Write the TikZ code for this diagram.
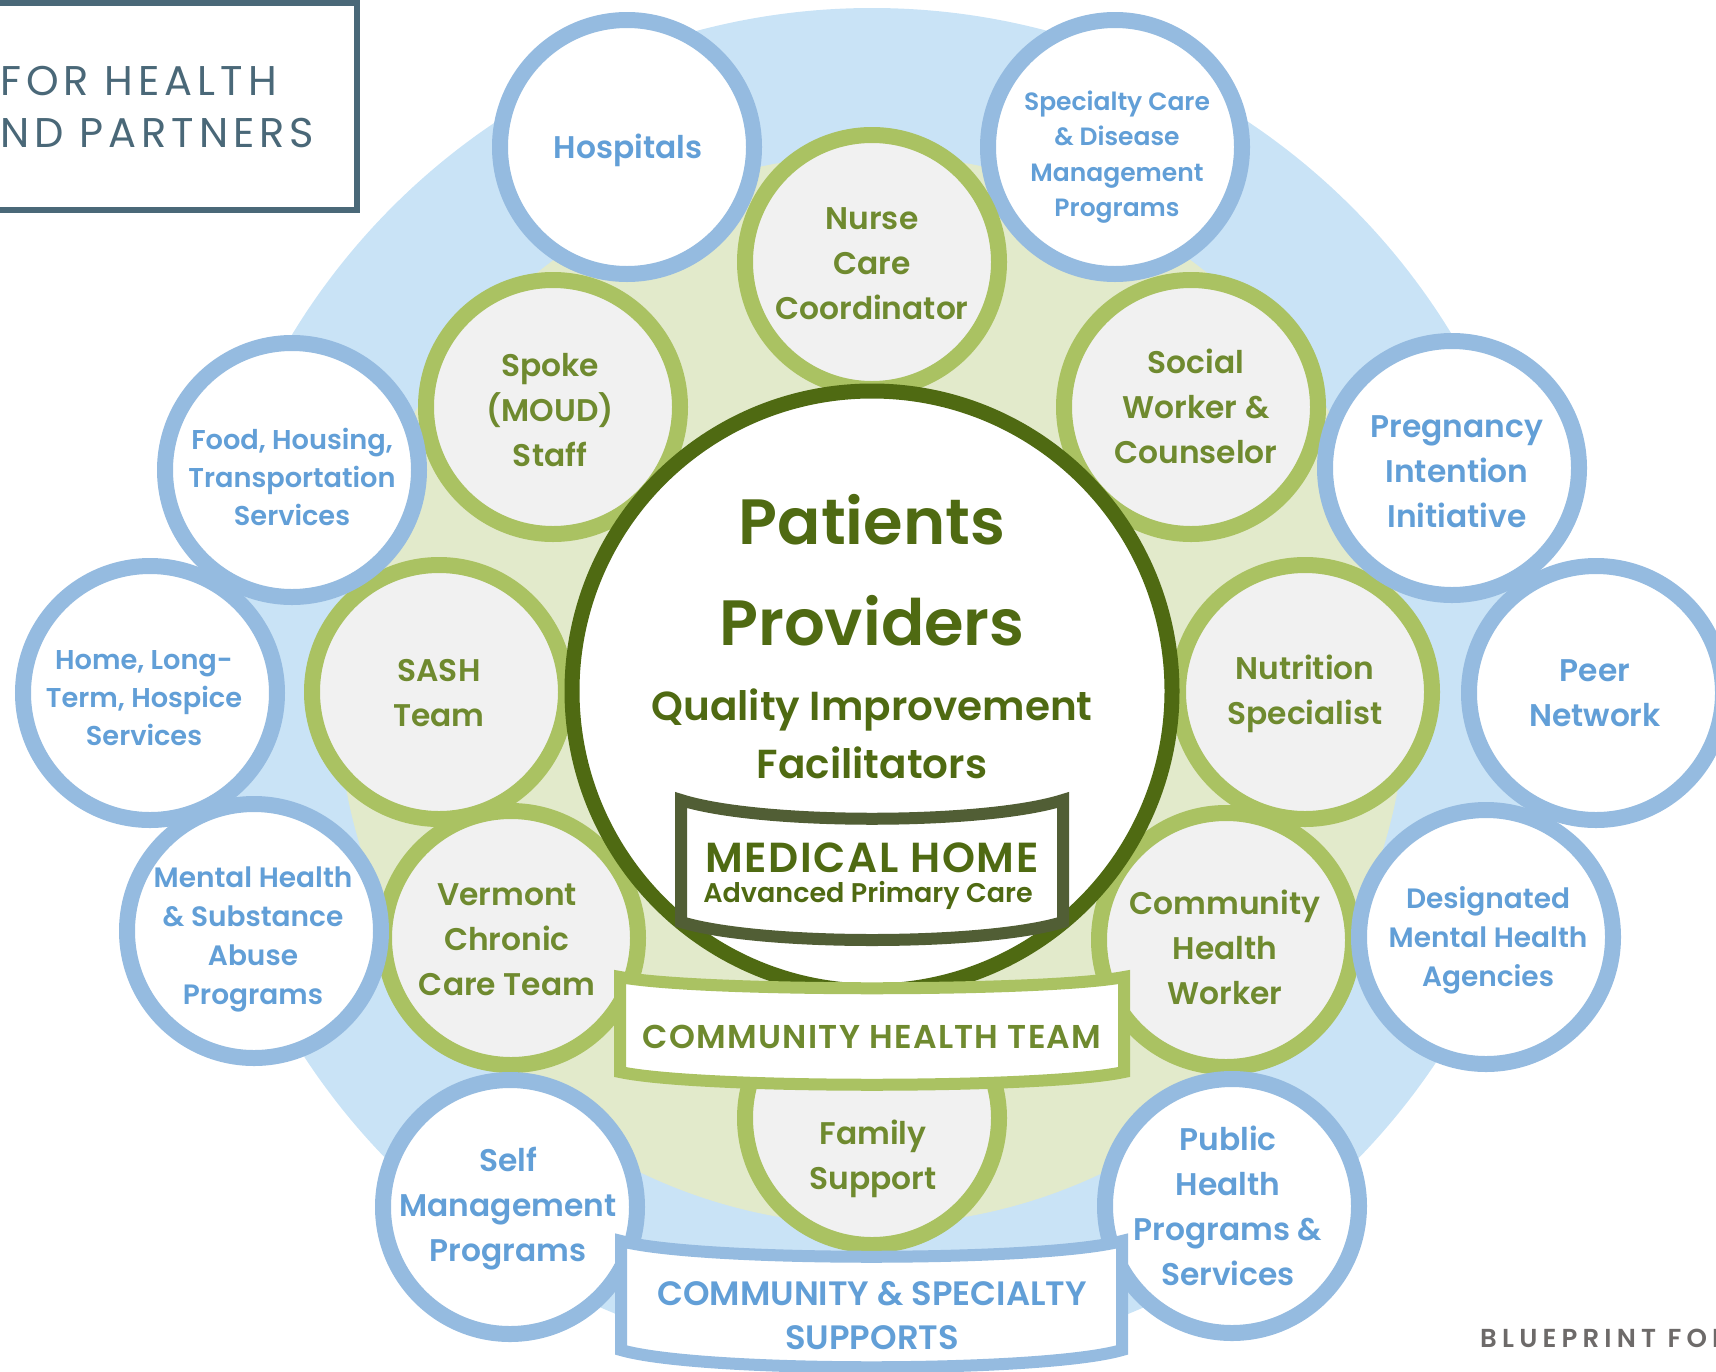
\documentclass[tikz,border=0pt]{standalone}
\usepackage{fontspec}
\setmainfont{Poppins}[BoldFont={Poppins SemiBold}]
\newfontfamily\titlefont{Poppins}[LetterSpace=12]
\newfontfamily\bpfont{Poppins SemiBold}[LetterSpace=20]
\newfontfamily\banfont{Poppins SemiBold}[LetterSpace=4]
\newcommand\myfs[2]{\fontsize{#1}{#2}\selectfont}
\definecolor{bgblue}{HTML}{C9E3F6}
\definecolor{bggreen}{HTML}{E2EACB}
\definecolor{ringblue}{HTML}{95BBE0}
\definecolor{ringgreen}{HTML}{AAC262}
\definecolor{darkgreen}{HTML}{4F6A12}
\definecolor{bannerdark}{HTML}{515E35}
\definecolor{txtblue}{HTML}{629FD7}
\definecolor{txtgreen}{HTML}{6F8A2F}
\definecolor{cellgray}{HTML}{F1F1F1}
\definecolor{titleblue}{HTML}{4A6878}
\definecolor{bpgray}{HTML}{6D6A69}
\tikzset{
  bluering/.style={circle, draw=ringblue, line width=16pt, fill=white, minimum size=254pt, inner sep=0pt},
  greenring/.style={circle, draw=ringgreen, line width=16pt, fill=cellgray, minimum size=254pt, inner sep=0pt},
  btxt/.style={text=txtblue, align=center, inner sep=0pt, font=\bfseries\myfs{31.3}{45}},
  bsmall/.style={btxt, font=\bfseries\myfs{27.2}{38}},
  gtxt/.style={text=txtgreen, align=center, inner sep=0pt, font=\bfseries\myfs{31.3}{45}},
  ctxt/.style={text=darkgreen, align=center, inner sep=0pt},
  bannerline/.style={line width=12pt, fill=white},
}
\begin{document}
\begin{tikzpicture}[x=1pt, y=-1pt]
\useasboundingbox (0,0) rectangle (1716,1371);
\clip (0,0) rectangle (1716,1371);
% backgrounds
\fill[bgblue] (872,686) circle[radius=678];
\fill[bggreen] (872,690) circle[radius=535];
% title box
\draw[titleblue, line width=6pt, fill=white] (-10,3) rectangle (357,210);
\node[anchor=base west, inner sep=0pt, text=titleblue, font=\titlefont\myfs{41.5}{50}] (title1) at (0,95) {FOR HEALTH};
\node[anchor=base west, inner sep=0pt, text=titleblue, font=\titlefont\myfs{41.5}{50}] (title2) at (0,147) {ND PARTNERS};
% top blue circles
\node[bluering] (hosp) at (627,147) {};
\node[bluering] (spec) at (1115,147) {};
% green circles
\node[greenring] (nurse) at (872,262) {};
\node[greenring] (spoke) at (553,407) {};
\node[greenring] (social) at (1191,407) {};
\node[greenring] (sash) at (439,692) {};
\node[greenring] (nutr) at (1305,692) {};
\node[greenring] (verm) at (511,938) {};
\node[greenring] (chw) at (1226,940) {};
\node[greenring] (fam) at (872,1118) {};
% other blue circles
\node[bluering] (food) at (292,470) {};
\node[bluering] (preg) at (1452,468) {};
\node[bluering] (home) at (150,693) {};
\node[bluering] (peer) at (1596,693) {};
\node[bluering] (mhsa) at (254,931) {};
\node[bluering] (dmh) at (1486,937) {};
\node[bluering] (self) at (510,1207) {};
\node[bluering] (pub) at (1232,1206) {};
% core
\node[circle, draw=darkgreen, line width=15pt, fill=white, minimum size=600pt, inner sep=0pt] (core) at (872,691) {};
% circle texts
\node[btxt] (t-hosp) at (628,150) {Hospitals};
\node[btxt, font=\bfseries\myfs{25}{35.4}] (t-spec) at (1117,157) {Specialty Care\\\& Disease\\Management\\Programs};
\node[gtxt] (t-nurse) at (872,264) {Nurse\\Care\\Coordinator};
\node[gtxt] (t-spoke) at (550,410) {Spoke\\(MOUD)\\Staff};
\node[gtxt] (t-social) at (1196,406) {Social\\Worker \&\\Counselor};
\node[bsmall] (t-food) at (292,477) {Food, Housing,\\Transportation\\Services};
\node[btxt] (t-preg) at (1457,472) {Pregnancy\\Intention\\Initiative};
\node[gtxt] (t-sash) at (439,693) {SASH\\Team};
\node[gtxt] (t-nutr) at (1305,694) {Nutrition\\Specialist};
\node[bsmall] (t-home) at (144,698) {Home, Long-\\Term, Hospice\\Services};
\node[btxt] (t-peer) at (1595,693) {Peer\\Network};
\node[btxt, font=\bfseries\myfs{28}{39}] (t-mhsa) at (253,939) {Mental Health\\\& Substance\\Abuse\\Programs};
\node[gtxt] (t-verm) at (507,940) {Vermont\\Chronic\\Care Team};
\node[gtxt] (t-chw) at (1225,947) {Community\\Health\\Worker};
\node[btxt, font=\bfseries\myfs{28}{39}] (t-dmh) at (1488,940) {Designated\\Mental Health\\Agencies};
\node[btxt] (t-self) at (508,1209) {Self\\Management\\Programs};
\node[gtxt] (t-fam) at (873,1159) {Family\\Support};
\node[btxt] (t-pub) at (1228,1206) {Public\\Health\\Programs \&\\Services};
% core texts
\node[ctxt, font=\bfseries\myfs{64}{70}] (t-pat) at (872,520) {Patients};
\node[ctxt, font=\bfseries\myfs{64}{70}] (t-prov) at (872,621) {Providers};
\node[ctxt, font=\bfseries\myfs{40.5}{58}] (t-qif) at (872,734) {Quality Improvement\\Facilitators};
% medical home banner
\draw[bannerdark, bannerline] (681,800) .. controls (760,825) and (984,825) .. (1063,800) -- (1063,922) .. controls (984,946) and (760,946) .. (681,922) -- cycle;
\node[ctxt, font=\banfont\myfs{42}{44}] (t-mh) at (872,858) {MEDICAL HOME};
\node[ctxt, font=\bfseries\myfs{27}{30}] (t-apc) at (868,895) {Advanced Primary Care};
% community health team banner
\draw[ringgreen, bannerline] (620,977) .. controls (700,992) and (1044,992) .. (1124,977) -- (1124,1072) .. controls (1044,1089) and (700,1089) .. (620,1072) -- cycle;
\node[text=txtgreen, inner sep=0pt, font=\banfont\myfs{33}{36}] (t-cht) at (872,1037) {COMMUNITY HEALTH TEAM};
% community & specialty banner
\draw[ringblue, bannerline] (621,1241) .. controls (700,1262) and (1043,1262) .. (1122,1241) -- (1122,1350) .. controls (1043,1373) and (700,1373) .. (621,1350) -- cycle;
\node[btxt, font=\bfseries\myfs{33.8}{44}] (t-css) at (872,1316) {COMMUNITY \& SPECIALTY\\SUPPORTS};
% footer
\node[anchor=base west, inner sep=0pt, text=bpgray, font=\bpfont\myfs{26}{30}] (t-bp) at (1480,1347) {BLUEPRINT FOR};
\end{tikzpicture}
\end{document}
